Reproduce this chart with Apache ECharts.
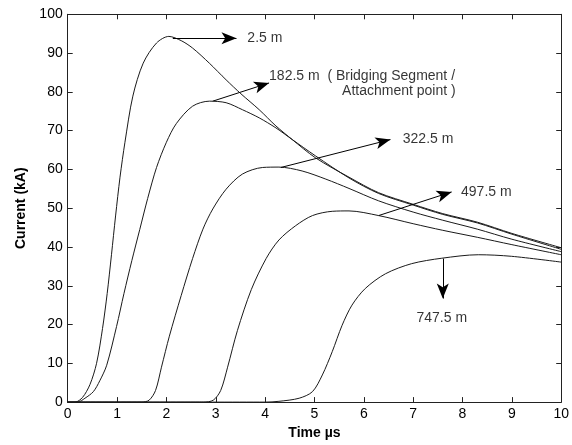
<!DOCTYPE html>
<html><head><meta charset="utf-8">
<script src="https://cdn.jsdelivr.net/npm/echarts@6/dist/echarts.min.js"></script>
<style>html,body{margin:0;padding:0;background:#fff}#c{width:572px;height:445px}</style>
</head><body><div id="c"></div>
<script>
// Current waveforms (Time µs, Current kA) at distances along the channel
const curve_2_5 = [[0,0],[0.15,0],[0.3,1.2],[0.45,4.5],[0.585,10],[0.706,19],[0.8,28],[0.887,38],[0.97,48],[1.06,58],[1.16,67],[1.32,78.9],[1.53,87.4],[1.8,92.6],[2.05,94.3],[2.3,93.2],[2.53,91.3],[2.87,87.4],[3.21,83.1],[3.51,79.5],[3.88,75.4],[4.22,71.2],[4.55,67.7],[5.02,63.0],[5.7,58.0],[6.3,54.0],[7.0,51.0],[7.6,48.6],[8.3,46.4],[9.0,43.5],[10,39.8]];
const curve_182_5 = [[0,0],[0.2,0],[0.35,1],[0.52,2.7],[0.65,5.5],[0.79,9.5],[0.99,19.5],[1.14,28],[1.3,36.5],[1.46,44.5],[1.62,52.5],[1.8,60.5],[2.0,67],[2.2,71.8],[2.53,76.3],[2.87,77.6],[3.21,77.2],[3.54,75.4],[3.88,73.3],[4.22,70.7],[4.55,67.7],[5.02,63.5],[5.7,57.8],[6.3,53.8],[7.0,50.8],[7.6,48.4],[8.3,46.2],[9.0,43.3],[10,39.4]];
const curve_322_5 = [[0,0],[1.5,0],[1.65,0.5],[1.78,3],[1.9,9],[2.06,17],[2.3,27.5],[2.53,37],[2.74,44.6],[2.94,49.8],[3.21,54.9],[3.54,58.8],[3.95,60.5],[4.28,60.6],[4.75,59.6],[5.23,57.5],[5.7,55.1],[6.3,51.9],[7.0,49.0],[7.6,46.9],[8.3,44.6],[9.0,42.0],[10,38.8]];
const curve_497_5 = [[0,0],[2.75,0],[2.95,0.5],[3.1,3],[3.24,9],[3.44,18.5],[3.72,29],[4.02,37],[4.28,41.8],[4.62,45.5],[4.96,48.1],[5.36,49.2],[5.7,49.3],[6.3,48.1],[7.0,46.0],[7.6,44.3],[8.3,42.5],[9.0,40.6],[10,38.0]];
const curve_747_5 = [[0,0],[4.0,0],[4.28,0.2],[4.69,1.0],[4.96,2.7],[5.16,7.0],[5.36,13.0],[5.56,19.8],[5.76,25.0],[6.03,29.3],[6.44,33.1],[6.97,35.7],[7.58,37.1],[8.32,38.0],[8.99,37.6],[10,36.1]];

// Annotation arrows (start point, end point) in data units
const arrowFrom = [[2.13,93.8],[2.94,77.6],[4.32,60.5],[6.3,48.1],[7.6,37.0]];
const arrowTo   = [[3.42,93.8],[4.08,82.3],[6.54,67.7],[7.78,54.2],[7.6,26.7]];

// Annotation texts: [x, y, text]
const leftTexts = [[3.64,93.8,'2.5 m'],[4.08,84.0,'182.5 m  ( Bridging Segment /'],[5.56,80.1,'Attachment point )'],[6.79,67.9,'322.5 m'],[7.97,54.2,'497.5 m']];
const centerTexts = [[7.58,21.7,'747.5 m']];

const xTickLabels = ['0','1','2','3','4','5','6','7','8','9','10'];
const yTickLabels = ['0','10','20','30','40','50','60','70','80','90','100'];

const FONT = 'Liberation Sans, Arial, sans-serif';
const chart = echarts.init(document.getElementById('c'));

function lineSeries(name, data) {
  return {
    name, type: 'line', data, xAxisIndex: 0, yAxisIndex: 0,
    showSymbol: false, symbol: 'none', smooth: 0.3,
    lineStyle: { color: '#1a1a1a', width: 1 }, z: 3, silent: true
  };
}

const markData = arrowFrom.map((f, i) => [
  { coord: f, symbol: 'none' },
  { coord: arrowTo[i], symbol: 'arrow', symbolSize: [9, 15] }
]);

const frameAxis = {
  type: 'value', min: 0, max: 10, interval: 1,
  axisLine: { show: true, onZero: false, lineStyle: { color: '#222', width: 1 } },
  axisTick: { show: true, inside: true, length: 5, lineStyle: { color: '#222' } },
  splitLine: { show: false }
};

chart.setOption({
  animation: false,
  backgroundColor: '#fff',
  grid: { left: 67.7, right: 8.7, top: 14.3, bottom: 41 },
  xAxis: [
    Object.assign({}, frameAxis, {
      position: 'bottom',
      axisLabel: { show: true, fontSize: 14, color: '#000', margin: 5, fontFamily: FONT,
        formatter: (v) => xTickLabels[Math.round(v)] },
      name: 'Time µs', nameLocation: 'middle', nameGap: 20,
      nameTextStyle: { fontWeight: 'bold', fontSize: 14, color: '#000', fontFamily: FONT }
    }),
    Object.assign({}, frameAxis, { position: 'top', axisLabel: { show: false } })
  ],
  yAxis: [
    Object.assign({}, frameAxis, {
      max: 100, interval: 10, position: 'left',
      axisLabel: { show: true, fontSize: 14, color: '#000', margin: 5, fontFamily: FONT,
        formatter: (v) => yTickLabels[Math.round(v / 10)] },
      name: 'Current (kA)', nameLocation: 'middle', nameGap: 37, nameRotate: 90,
      nameTextStyle: { fontWeight: 'bold', fontSize: 14, color: '#000', fontFamily: FONT }
    }),
    Object.assign({}, frameAxis, { max: 100, interval: 10, position: 'right', axisLabel: { show: false } })
  ],
  series: [
    lineSeries('2.5 m', curve_2_5),
    lineSeries('182.5 m', curve_182_5),
    lineSeries('322.5 m', curve_322_5),
    lineSeries('497.5 m', curve_497_5),
    lineSeries('747.5 m', curve_747_5),
    {
      name: 'arrows', type: 'line', data: [], xAxisIndex: 0, yAxisIndex: 0,
      markLine: {
        silent: true, animation: false,
        lineStyle: { color: '#000', width: 1, type: 'solid' },
        label: { show: false },
        data: markData
      }
    },
    {
      name: 'labelsLeft', type: 'scatter', data: leftTexts, symbolSize: 0, silent: true,
      label: { show: true, position: 'inside', align: 'left', verticalAlign: 'middle',
        formatter: (p) => p.data[2], fontSize: 14, color: '#000', fontFamily: FONT }
    },
    {
      name: 'labelsCenter', type: 'scatter', data: centerTexts, symbolSize: 0, silent: true,
      label: { show: true, position: 'inside', align: 'center', verticalAlign: 'middle',
        formatter: (p) => p.data[2], fontSize: 14, color: '#000', fontFamily: FONT }
    }
  ]
});
</script>
</body></html>
